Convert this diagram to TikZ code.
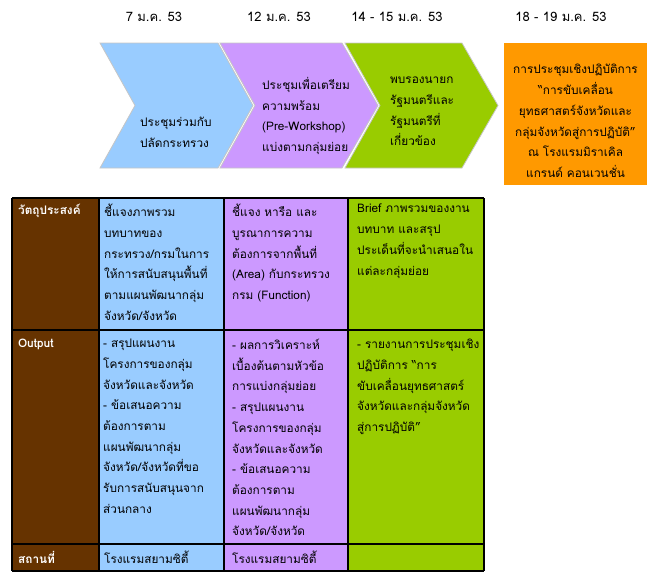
\documentclass[tikz,border=0pt]{standalone}
\usepackage{fontspec}
\setmainfont[Script=Thai]{Loma}
\usetikzlibrary{positioning}
\definecolor{skyblue}{HTML}{99CCFF}
\definecolor{lilac}{HTML}{CC99FF}
\definecolor{limegreen}{HTML}{99CC00}
\definecolor{amber}{HTML}{FF9900}
\definecolor{darkbrown}{HTML}{663300}
\tikzset{
  chev/.style={draw=gray!45, line width=0.8pt},
  celltext/.style={anchor=north west, align=left, inner sep=0pt,
    font=\fontsize{11.8}{20.7}\selectfont},
  headtext/.style={celltext, text=white, font=\bfseries\fontsize{11.8}{20.7}\selectfont},
  datelabel/.style={font=\fontsize{13}{15}\selectfont},
  gridline/.style={draw=black, line width=1.2pt}
}
\begin{document}
\begin{tikzpicture}[x=1pt, y=-1pt]
\useasboundingbox (0,0) rectangle (657,582);
% dates
\node[datelabel] (date1) at (154,17) {7 ม.ค. 53};
\node[datelabel] (date2) at (279,17) {12 ม.ค. 53};
\node[datelabel] (date3) at (397,17) {14 - 15 ม.ค. 53};
\node[datelabel] (date4) at (561,17) {18 - 19 ม.ค. 53};
% chevrons
\filldraw[chev, fill=skyblue] (100,43) -- (218,43) -- (253,105.5) -- (218,168) -- (100,168) -- (135,105.5) -- cycle;
\filldraw[chev, fill=lilac] (220,43) -- (342,43) -- (378,105.5) -- (342,168) -- (220,168) -- (255,105.5) -- cycle;
\filldraw[chev, fill=limegreen] (345,43) -- (462,43) -- (498,105.5) -- (462,168) -- (345,168) -- (380,105.5) -- cycle;
\node[celltext] (meet1) at (140,117) {ประชุมร่วมกับ\\ปลัดกระทรวง};
\node[celltext] (meet2) at (262,77) {ประชุมเพื่อเตรียม\\ความพร้อม\\(Pre-Workshop)\\แบ่งตามกลุ่มย่อย};
\node[celltext] (meet3) at (390,77) {พบรองนายก\\รัฐมนตรีและ\\รัฐมนตรีที่\\เกี่ยวข้อง};
% workshop box
\fill[amber] (504,43) rectangle (647,185);
\node[align=center, inner sep=0pt, font=\fontsize{11.8}{20.7}\selectfont] (workshop) at (575.5,121)
  {การประชุมเชิงปฏิบัติการ\\“การขับเคลื่อน\\ยุทธศาสตร์จังหวัดและ\\กลุ่มจังหวัดสู่การปฏิบัติ”\\ณ โรงแรมมิราเคิล\\แกรนด์ คอนเวนชั่น};
% table
\fill[darkbrown] (12,198) rectangle (99,571);
\fill[skyblue] (99,198) rectangle (224,571);
\fill[lilac] (224,198) rectangle (348,571);
\fill[limegreen] (348,198) rectangle (484,571);
\foreach \x in {12,99,224,348,484} \draw[gridline] (\x,198) -- (\x,571);
\foreach \y in {198,330,544,571} \draw[gridline] (12,\y) -- (484,\y);
% row 1
\node[headtext] (aimhead) at (18,204) {วัตถุประสงค์};
\node[celltext] (aim1) at (104,204) {ชี้แจงภาพรวม\\บทบาทของ\\กระทรวง/กรมในการ\\ให้การสนับสนุนพื้นที่\\ตามแผนพัฒนากลุ่ม\\จังหวัด/จังหวัด};
\node[celltext] (aim2) at (232,204) {ชี้แจง หารือ และ\\บูรณาการความ\\ต้องการจากพื้นที่\\(Area) กับกระทรวง\\กรม (Function)};
\node[celltext] (aim3) at (357,204) {Brief ภาพรวมของงาน\\บทบาท และสรุป\\ประเด็นที่จะนำเสนอใน\\แต่ละกลุ่มย่อย};
% row 2
\node[headtext] (outhead) at (18,339) {Output};
\node[celltext] (out1) at (103,339) {- สรุปแผนงาน\\โครงการของกลุ่ม\\จังหวัดและจังหวัด\\- ข้อเสนอความ\\ต้องการตาม\\แผนพัฒนากลุ่ม\\จังหวัด/จังหวัดที่ขอ\\รับการสนับสนุนจาก\\ส่วนกลาง};
\node[celltext] (out2) at (232,339) {- ผลการวิเคราะห์\\เบื้องต้นตามหัวข้อ\\การแบ่งกลุ่มย่อย\\- สรุปแผนงาน\\โครงการของกลุ่ม\\จังหวัดและจังหวัด\\- ข้อเสนอความ\\ต้องการตาม\\แผนพัฒนากลุ่ม\\จังหวัด/จังหวัด};
\node[celltext] (out3) at (357,339) {- รายงานการประชุมเชิง\\ปฏิบัติการ “การ\\ขับเคลื่อนยุทธศาสตร์\\จังหวัดและกลุ่มจังหวัด\\สู่การปฏิบัติ”};
% row 3
\node[headtext, anchor=west] (placehead) at (18,557.5) {สถานที่};
\node[celltext, anchor=west] (place1) at (104,557.5) {โรงแรมสยามซิตี้};
\node[celltext, anchor=west] (place2) at (232,557.5) {โรงแรมสยามซิตี้};
\end{tikzpicture}
\end{document}
